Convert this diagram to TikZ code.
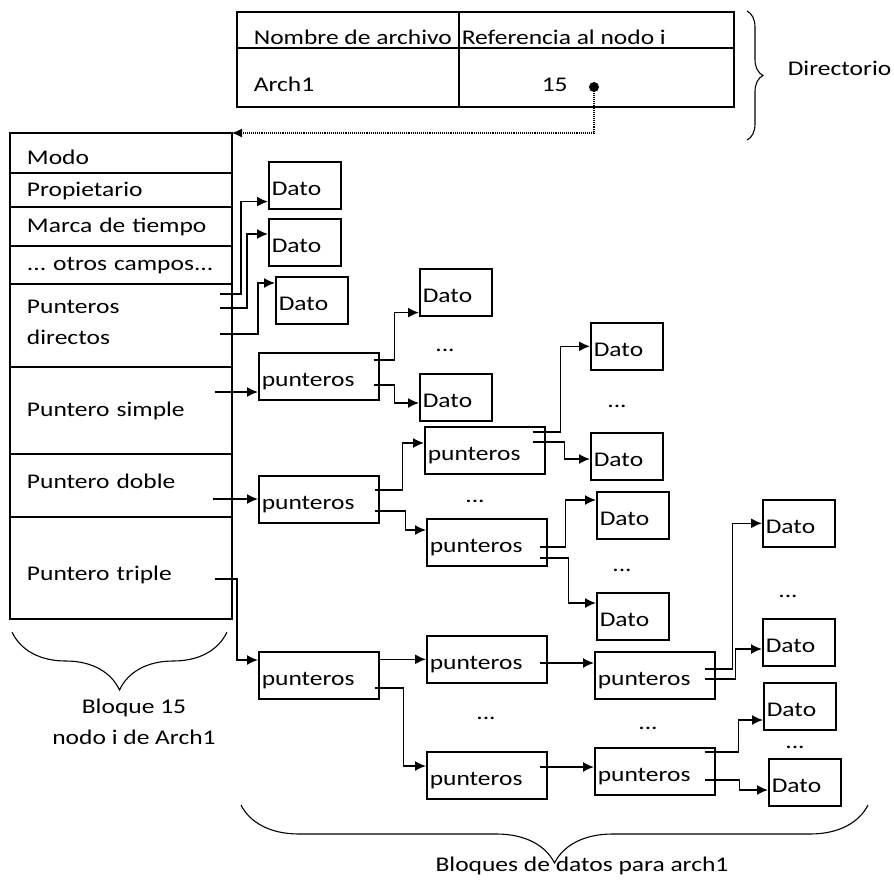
\documentclass[tikz,border=0pt]{standalone}
\usepackage{fontspec}
\setmainfont{Carlito}[FakeStretch=1.22]
\usetikzlibrary{arrows.meta,positioning,decorations.pathreplacing}
\frenchspacing

\tikzset{
  caja/.style={draw, anchor=north west, align=left, inner xsep=3pt, inner ysep=0pt,
               text height=21pt, text depth=0pt, minimum height=47pt},
  dato/.style={caja, text width=66pt},
  punteros/.style={caja, text width=114pt},
  campo/.style={draw, align=left, inner xsep=17pt, inner ysep=0pt, outer sep=0pt,
                text width=188pt, text depth=0pt},
  texto/.style={anchor=base west, inner sep=0pt},
  puntos/.style={inner sep=0pt},
  llave/.style={decorate, decoration={brace, amplitude=#1}, line width=1.1pt},
}

\begin{document}
\begin{tikzpicture}[x=1pt, y=-1pt, line width=1.6pt,
    font=\fontsize{20.9}{31}\selectfont, >={Latex[length=11pt,width=10pt]}]
  \useasboundingbox (0,0) rectangle (894,881);

  % directorio
  \draw (237,12) rectangle (734,107);
  \draw (237,48) -- (734,48);
  \draw (459,12) -- (459,107);
  \node[texto] (nombre) at (253,44) {Nombre de archivo};
  \node[texto] (refnodo) at (461,44) {Referencia al nodo i};
  \node[texto] (arch) at (253,91) {Arch1};
  \node[texto] (quince) at (541,91) {15};
  \node[circle, fill, inner sep=0pt, minimum size=10pt] (ref) at (594,87) {};
  \draw[llave=16pt] (747,11) -- (747,140);
  \node[anchor=west, inner sep=0pt] (dir) at (787,68) {Directorio};

  % nodo i (bloque 15)
  \node[campo, anchor=north west, minimum height=40pt, text height=23pt] (modo) at (10,133) {Modo};
  \node[campo, minimum height=34pt, text height=13pt, below=0pt of modo]  (prop)     {Propietario};
  \node[campo, minimum height=39pt, text height=12pt, below=0pt of prop]  (marca)    {Marca de tiempo};
  \node[campo, minimum height=38pt, text height=11pt, below=0pt of marca] (otros)    {... otros campos...};
  \node[campo, minimum height=83pt, text height=13pt, text depth=37pt, below=0pt of otros] (directos) {Punteros\\directos};
  \node[campo, minimum height=87pt, text height=12pt, below=0pt of directos] (simple) {Puntero simple};
  \node[campo, minimum height=63pt, text height=6pt, below=0pt of simple] (doble)    {Puntero doble};
  \node[campo, minimum height=102pt, text height=25pt, below=0pt of doble] (triple)  {Puntero triple};
  \draw[->, densely dotted, line width=1.1pt, >={Latex[length=10pt,width=9pt]}] (ref) |- (modo.north east);
  \draw[llave=58pt] (227,632) -- (12,632);
  \node[align=center] (bloque) at (134,722) {Bloque 15\\nodo i de Arch1};

  % bloques de datos
  \node[dato] (d1) at (268,161) {Dato};
  \node[dato] (d2) at (268,218) {Dato};
  \node[dato] (d3) at (275,276) {Dato};
  \node[punteros] (p1) at (258,352) {punteros};
  \node[dato] (ds1) at (419,268) {Dato};
  \node[dato] (ds2) at (419,373) {Dato};
  \node[punteros] (p2) at (258,475) {punteros};
  \node[punteros] (p21) at (424,426) {punteros};
  \node[punteros] (p22) at (426,518) {punteros};
  \node[dato] (da) at (590,322) {Dato};
  \node[dato] (db) at (590,432) {Dato};
  \node[dato] (dc) at (596,491) {Dato};
  \node[dato] (dd) at (596,592) {Dato};
  \node[punteros] (p3) at (258,651) {punteros};
  \node[punteros] (p31) at (426,635) {punteros};
  \node[punteros] (p32) at (426,751) {punteros};
  \node[punteros] (p311) at (594,651) {punteros};
  \node[punteros] (p321) at (594,747) {punteros};
  \node[dato] (de) at (762,499) {Dato};
  \node[dato] (df) at (762,618) {Dato};
  \node[dato] (dg) at (763,682) {Dato};
  \node[dato] (dh) at (768,758) {Dato};

  \node[puntos] (e1) at (445,350) {...};
  \node[puntos] (e2) at (617,406) {...};
  \node[puntos] (e3) at (475,501) {...};
  \node[puntos] (e4) at (622,570) {...};
  \node[puntos] (e5) at (486,718) {...};
  \node[puntos] (e6) at (648,728) {...};
  \node[puntos] (e7) at (788,596) {...};
  \node[puntos] (e8) at (795,747) {...};

  \draw[llave=58pt] (868,805) -- (241,805);
  \node (bloques) at (582,866) {Bloques de datos para arch1};

  % salidas de los punteros
  \coordinate (pd1) at ([shift={(-12,10)}]directos.north east);
  \coordinate (pd2) at ([shift={(-12,24)}]directos.north east);
  \coordinate (pd3) at ([shift={(-12,50)}]directos.north east);
  \coordinate (ps)  at ([shift={(-17,25)}]simple.north east);
  \coordinate (pdo) at ([shift={(-19,45)}]doble.north east);
  \coordinate (pt)  at ([shift={(-17,62)}]triple.north east);
  \coordinate (p1a) at ([shift={(-6,8)}]p1.north east);
  \coordinate (p1b) at ([shift={(-6,33)}]p1.north east);
  \coordinate (p2a) at ([shift={(-5,15)}]p2.north east);
  \coordinate (p2b) at ([shift={(-5,36)}]p2.north east);
  \coordinate (p21a) at ([shift={(-13,6)}]p21.north east);
  \coordinate (p21b) at ([shift={(-13,16)}]p21.north east);
  \coordinate (p22a) at ([shift={(-8,29)}]p22.north east);
  \coordinate (p22b) at ([shift={(-8,40)}]p22.north east);
  \coordinate (p3b) at ([shift={(-5,37)}]p3.north east);
  \coordinate (p31a) at ([shift={(-8,28)}]p31.north east);
  \coordinate (p32a) at ([shift={(-8,16)}]p32.north east);
  \coordinate (q1) at ([shift={(-11,18)}]p311.north east);
  \coordinate (q2) at ([shift={(-11,28)}]p311.north east);
  \coordinate (q3) at ([shift={(-11,5)}]p321.north east);
  \coordinate (q4) at ([shift={(-11,33)}]p321.north east);

  \draw[->] (pd1) -- ++(21,0) |- ([shift={(0,-8)}]d1.south west);
  \draw[->] (pd2) -- ++(27,0) |- ([shift={(0,16)}]d2.north west);
  \draw[->] (pd3) -- ++(38,0) |- ([shift={(0,7)}]d3.north west);
  \draw[->] (ps) -- (ps -| p1.west);
  \draw[->] (pdo) -- (pdo -| p2.west);
  \draw[->] (pt) -- ++(22,0) |- ([shift={(0,9)}]p3.north west);

  \draw[->] (p1a) -- ++(21,0) |- ([shift={(0,-4)}]ds1.south west);
  \draw[->] (p1b) -- ++(21,0) |- ([shift={(0,30)}]ds2.north west);

  \draw[->] (p2a) -- ++(28,0) |- ([shift={(0,17)}]p21.north west);
  \draw[->] (p2b) -- ++(31,0) |- ([shift={(0,12)}]p22.north west);
  \draw[->] (p21a) -- ++(28,0) |- (da.west);
  \draw[->] (p21b) -- ++(32,0) |- ([shift={(0,27)}]db.north west);
  \draw[->] (p22a) -- ++(26,0) |- ([shift={(0,9)}]dc.north west);
  \draw[->] (p22b) -- ++(29,0) |- ([shift={(0,11)}]dd.north west);

  \draw[->] (p3.east |- p31.west) -- (p31.west);
  \draw[->] (p3b) -- ++(29,0) |- ([shift={(0,15)}]p32.north west);
  \draw[->] (p31a) -- (p31a -| p311.west);
  \draw[->] (p32a) -- (p32a -| p321.west);
  \draw[->] (q1) -- ++(28,0) |- (de.west);
  \draw[->] (q2) -- ++(31,0) |- ([shift={(0,31)}]df.north west);
  \draw[->] (q3) -- ++(34,0) |- ([shift={(0,38)}]dg.north west);
  \draw[->] (q4) -- ++(35,0) |- ([shift={(0,32)}]dh.north west);
\end{tikzpicture}
\end{document}
